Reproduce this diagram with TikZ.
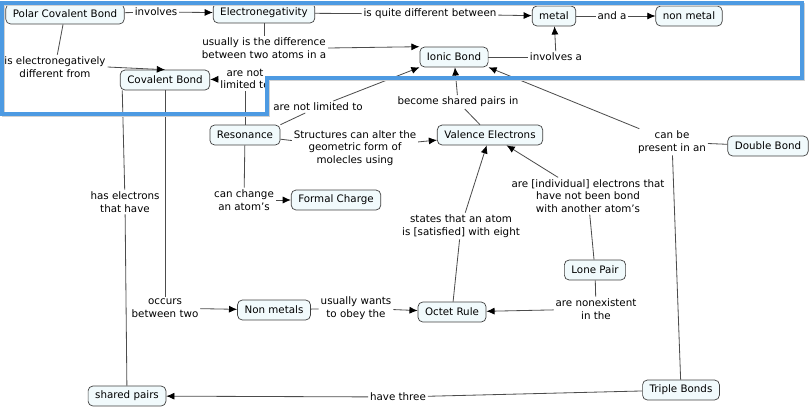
\documentclass[tikz,border=0pt]{standalone}
\usepackage{fontspec}
\setmainfont{DejaVu Sans}
\usetikzlibrary{arrows.meta}
\definecolor{framecol}{RGB}{77,154,226}
\definecolor{boxfill}{RGB}{241,250,252}

\begin{document}
\begin{tikzpicture}[
  x=0.03cm, y=-0.03cm,
  font=\fontsize{8.8}{10.8}\selectfont,
  concept/.style={draw=black!75, line width=0.6pt, rounded corners=4pt, fill=boxfill,
                  inner xsep=6pt, inner ysep=3pt, minimum height=17pt},
  link/.style={align=center, inner sep=1.5pt},
  cline/.style={draw=black!70, line width=0.7pt},
  arr/.style={cline, -{Latex[length=7pt,width=6pt,color=black]}}
]
\useasboundingbox (0,0) rectangle (810,410);
% concepts
\node[concept] (polar) at (65,14) {Polar Covalent Bond};
\node[concept] (elec) at (264,13) {Electronegativity};
\node[concept] (metal) at (554,16) {metal};
\node[concept] (nonmetal) at (689,16) {non metal};
\node[concept] (ionic) at (454,57) {Ionic Bond};
\node[concept] (cov) at (165,80) {Covalent Bond};
\node[concept] (res) at (245,135) {Resonance};
\node[concept] (valence) at (490,135) {Valence Electrons};
\node[concept] (double) at (768,146) {Double Bond};
\node[concept] (formal) at (336,200) {Formal Charge};
\node[concept] (lone) at (595,270) {Lone Pair};
\node[concept] (octet) at (452,312) {Octet Rule};
\node[concept] (nonmetals) at (274,310) {Non metals};
\node[concept] (shared) at (127,396) {shared pairs};
\node[concept] (triple) at (681,390) {Triple Bonds};
% linking phrases
\node[link] (involves) at (156,12) {involves};
\node[link] (quite) at (430,14) {is quite different between};
\node[link] (anda) at (612,16) {and a};
\node[link] (udiff) at (264,48) {usually is the difference\\between two atoms in a};
\node[link] (iselec) at (55,67) {is electronegatively\\different from};
\node[link] (nlimA) at (245,79) {are not\\limited to};
\node[link] (nlimB) at (318,107) {are not limited to};
\node[link] (involvesa) at (556,57) {involves a};
\node[link] (become) at (458,102) {become shared pairs in};
\node[link] (alter) at (355,148) {Structures can alter the\\geometric form of\\molecles using};
\node[link] (change) at (244,200) {can change\\an atom's};
\node[link] (hasel) at (125,202) {has electrons\\that have};
\node[link] (indiv) at (588,196) {are [individual] electrons that\\have not been bond\\with another atom's};
\node[link] (states) at (461,226) {states that an atom\\is [satisfied] with eight};
\node[link] (canbe) at (672,142) {can be\\present in an};
\node[link] (occurs) at (165,308) {occurs\\between two};
\node[link] (wants) at (356,308) {usually wants\\to obey the};
\node[link] (nonex) at (596,309) {are nonexistent\\in the};
\node[link] (three) at (398,397) {have three};
% connectors
\draw[cline] (polar) -- (involves);
\draw[arr] (involves) -- (elec);
\draw[cline] (elec) -- (quite);
\draw[arr] (quite) -- (metal);
\draw[cline] (metal) -- (anda);
\draw[arr] (anda) -- (nonmetal);
\draw[cline] (elec) -- (udiff);
\draw[arr] (udiff.east) -- (ionic.north west);
\draw[cline] (polar) -- (iselec);
\draw[arr] (iselec.east) -- (cov.north);
\draw[cline] (ionic) -- (involvesa);
\draw[arr] (involvesa) -- (metal);
\draw[cline] (res) -- (nlimA);
\draw[arr] (nlimA) -- (cov);
\draw[cline] (res.north east) -- (nlimB);
\draw[arr] (nlimB) -- (ionic.south west);
\draw[cline] (res) -- (alter);
\draw[arr] (alter) -- (valence);
\draw[cline] (res) -- (change);
\draw[arr] (change) -- (formal);
\draw[cline] (valence) -- (become);
\draw[arr] (become) -- (ionic);
\draw[cline] (octet) -- (states);
\draw[arr] (states) -- (valence);
\draw[cline] (lone) -- (indiv);
\draw[arr] (indiv) -- (valence);
\draw[cline] (lone) -- (nonex);
\draw[arr] (nonex) -- (octet);
\draw[cline] (triple) -- (canbe);
\draw[cline] (double) -- (canbe);
\draw[arr] (canbe) -- (ionic.south east);
\draw[cline] (triple) -- (three);
\draw[arr] (three) -- (shared);
\draw[cline] ([xshift=2pt]cov.south west) -- (hasel);
\draw[cline] (hasel) -- (shared);
\draw[cline] (cov) -- (occurs);
\draw[arr] (occurs) -- (nonmetals);
\draw[cline] (nonmetals) -- (wants);
\draw[arr] (wants) -- (octet);
% blue frame on top
\draw[black!18, line width=2.5pt, line join=miter, shift={(1.5,1.5)}]
  (2,3) -- (802,3) -- (802,78) -- (267,78) -- (267,114) -- (2,114) -- cycle;
\draw[framecol, line width=3pt, line join=miter]
  (2,3) -- (802,3) -- (802,78) -- (267,78) -- (267,114) -- (2,114) -- cycle;
\end{tikzpicture}
\end{document}
